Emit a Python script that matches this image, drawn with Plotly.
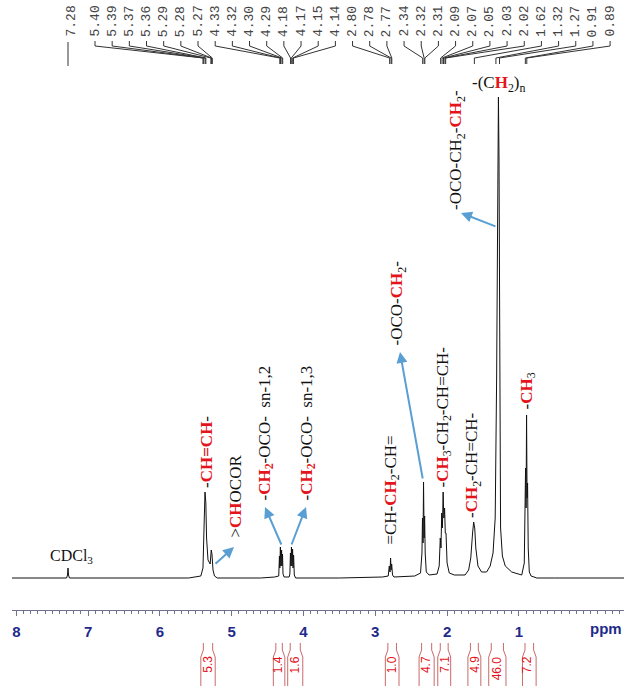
import plotly.graph_objects as go

# ---------------- data ----------------
# 1H NMR spectrum trace: chemical shift (ppm) and intensity (arbitrary units)
spectrum_ppm = [8.06, 7.40, 7.30, 7.287, 7.28, 7.273, 7.26, 5.60, 5.50,
                5.43, 5.40, 5.385, 5.372, 5.36, 5.35, 5.33, 5.30, 5.285, 5.275, 5.26, 5.24, 5.20,
                4.60, 4.40, 4.345, 4.335, 4.33, 4.322, 4.315, 4.305, 4.30, 4.292, 4.285, 4.27,
                4.20, 4.19, 4.182, 4.175, 4.168, 4.16, 4.152, 4.145, 4.138, 4.128, 4.11,
                3.50, 2.90, 2.82, 2.805, 2.795, 2.787, 2.78, 2.772, 2.76, 2.74,
                2.45, 2.37, 2.35, 2.343, 2.335, 2.328, 2.32, 2.313, 2.305, 2.29, 2.25,
                2.14, 2.11, 2.095, 2.085, 2.075, 2.065, 2.055, 2.045, 2.035, 2.025, 2.015, 2.00, 1.97, 1.90,
                1.75, 1.70, 1.67, 1.645, 1.63, 1.615, 1.60, 1.57, 1.52,
                1.45, 1.40, 1.36, 1.33, 1.31, 1.30, 1.293, 1.285, 1.277, 1.268, 1.255, 1.23, 1.19, 1.10, 1.00,
                0.96, 0.925, 0.915, 0.907, 0.90, 0.893, 0.886, 0.879, 0.87, 0.855, 0.83, 0.75, 0.50, -0.464]
spectrum_int = [0, 0, 0, 3, 10, 3, 0, 0, 1,
                2, 10, 40, 86, 75, 40, 18, 14, 28, 24, 8, 2, 0,
                0, 1, 2, 22, 10, 31, 12, 28, 12, 24, 4, 1,
                1, 4, 25, 12, 31, 12, 29, 10, 23, 3, 0,
                0, 1, 2, 12, 6, 20, 8, 14, 3, 1,
                2, 5, 25, 60, 35, 96, 40, 62, 25, 6, 3,
                4, 12, 40, 30, 65, 50, 86, 60, 70, 45, 45, 15, 5, 3,
                3, 8, 20, 45, 56, 50, 30, 12, 6,
                6, 12, 25, 60, 200, 351, 330, 481, 420, 150, 50, 22, 12, 6, 4,
                3, 15, 60, 110, 70, 163, 80, 95, 30, 6, 2, 0, 0, 0]

# peak-picking labels
peak_labels = ["5.40", "5.39", "5.37", "5.36", "5.29", "5.28", "5.27",
               "4.33", "4.32", "4.30", "4.29", "4.18", "4.17", "4.15", "4.14",
               "2.80", "2.78", "2.77", "2.34", "2.32", "2.31",
               "2.09", "2.07", "2.05", "2.03", "2.02", "1.62", "1.32", "1.27", "0.91", "0.89"]
solvent_label = "7.28"

# integrals
integral_values = ["5.3", "1.4", "1.6", "1.0", "4.7", "7.1", "4.9", "46.0", "7.2"]
integral_centers = [5.34, 4.36, 4.12, 2.77, 2.30, 2.04, 1.62, 1.30, 0.89]
integral_left = [5.43, 4.42, 4.22, 2.86, 2.39, 2.13, 1.71, 1.42, 0.95]
integral_right = [5.23, 4.26, 4.01, 2.67, 2.18, 1.95, 1.53, 1.18, 0.76]

tick_values = [8, 7, 6, 5, 4, 3, 2, 1]

# ---------------- figure ----------------
W, H = 624, 686
PLOT_TOP, PLOT_BOTTOM = 0, 610          # pixel rows of the plotting area
X_RANGE = [8.06, -0.464]
LEFT = 12
PPM_PER_PX = (X_RANGE[0] - X_RANGE[1]) / (W - LEFT)


def py(ypix):
    """pixel row -> paper y"""
    return (PLOT_BOTTOM - ypix) / (PLOT_BOTTOM - PLOT_TOP)


def px_ppm(xpix):
    """pixel column -> ppm (for evenly spaced label positions)"""
    return X_RANGE[0] - (xpix - LEFT) * PPM_PER_PX


RED = "#e3141c"
BLUE = "#5a9fd4"
AXIS_BLUE = "#1f2a8a"
SERIF = "Liberation Serif, Times New Roman, serif"


def red(s):
    return f"<span style='color:{RED}'><b>{s}</b></span>"


fig = go.Figure()
fig.add_trace(go.Scatter(x=spectrum_ppm, y=spectrum_int, mode="lines",
                         line=dict(color="#111111", width=1), hoverinfo="skip",
                         showlegend=False))

annotations = []
shapes = []

# peak pick labels at top
annotations.append(dict(x=px_ppm(71), y=py(4), xref="x", yref="paper", text=solvent_label,
                        textangle=-90, showarrow=False, xanchor="center", yanchor="top",
                        font=dict(family="Liberation Mono, monospace", size=13, color="#444")))
shapes.append(dict(type="line", xref="x", yref="paper", x0=7.28, x1=7.28, y0=py(42), y1=py(66),
                   line=dict(color="#333", width=1)))
for i, lab in enumerate(peak_labels):
    xl = px_ppm(95 + i * 17.17)
    annotations.append(dict(x=xl, y=py(4), xref="x", yref="paper", text=lab,
                            textangle=-90, showarrow=False, xanchor="center", yanchor="top",
                            font=dict(family="Liberation Mono, monospace", size=13, color="#444")))
    xp = float(lab)
    shapes.append(dict(type="path", xref="x", yref="paper",
                       path=f"M {xl},{py(41)} L {xl},{py(46)} L {xp},{py(58)} L {xp},{py(64)}",
                       line=dict(color="#333", width=1)))

# integrals
for v, c, l, r in zip(integral_values, integral_centers, integral_left, integral_right):
    annotations.append(dict(x=c, y=py(654), xref="x", yref="paper", text=v, textangle=-90,
                            showarrow=False, xanchor="center", yanchor="top",
                            font=dict(family="Arial, Liberation Sans", size=12, color=RED)))
    for edge, inset in ((l, -0.035), (r, 0.035)):
        shapes.append(dict(type="path", xref="x", yref="paper",
                           path=(f"M {edge + inset},{py(643)} L {edge + inset},{py(650)} "
                                 f"L {edge},{py(657)} L {edge},{py(690)}"),
                           line=dict(color="#c96a6a", width=1)))

# assignment labels (rotated), anchored at their lower end
labels = [
    ("-" + red("CH=CH") + "-", 5.358, 88),
    (">" + red("CH") + "OCOR", 4.954, 38),
    ("-" + red("CH<sub>2</sub>") + "-OCO-  sn-1,2", 4.536, 75),
    ("-" + red("CH<sub>2</sub>") + "-OCO-  sn-1,3", 3.951, 75),
    ("=CH-" + red("CH") + "<sub>2</sub>-CH=", 2.78, 31),
    ("-OCO-" + red("CH") + "<sub>2</sub>-", 2.684, 231),
    ("-" + red("CH") + "<sub>3</sub>-CH<sub>2</sub>-CH=CH-", 2.057, 88),
    ("-" + red("CH") + "<sub>2</sub>-CH=CH-", 1.639, 58),
    ("-" + red("CH") + "<sub>3</sub>", 0.887, 166),
    ("-OCO-CH<sub>2</sub>-" + red("CH") + "<sub>2</sub>-", 1.862, 366),
]
for text, x, y in labels:
    annotations.append(dict(x=x, y=y, xref="x", yref="y", text=text, textangle=-90,
                            showarrow=False, xanchor="center", yanchor="bottom",
                            font=dict(family=SERIF, size=17, color="#111")))

annotations.append(dict(x=1.277, y=494, xref="x", yref="y",
                        text="-(C" + red("H") + "<sub>2</sub>)<sub>n</sub>",
                        showarrow=False, xanchor="center", yanchor="middle",
                        font=dict(family=SERIF, size=17, color="#111")))
annotations.append(dict(x=7.238, y=22, xref="x", yref="y", text="CDCl<sub>3</sub>",
                        showarrow=False, xanchor="center", yanchor="middle",
                        font=dict(family=SERIF, size=16, color="#111")))

# arrows (tail -> head)
arrows = [
    ((5.247, 13), (4.968, 31)),
    ((4.30, 32), (4.536, 71)),
    ((4.174, 32), (3.965, 71)),
    ((2.336, 98), (2.656, 226)),
    ((1.305, 351), (1.806, 365)),
]
for (tx, ty), (hx, hy) in arrows:
    annotations.append(dict(x=hx, y=hy, ax=tx, ay=ty, xref="x", yref="y", axref="x", ayref="y",
                            text="", showarrow=True, arrowhead=2, arrowsize=1.1,
                            arrowwidth=2, arrowcolor=BLUE, standoff=0, startstandoff=0))

# axis label
annotations.append(dict(x=1, y=py(628), xref="paper", yref="paper", text="<b>ppm</b>",
                        showarrow=False, xanchor="right", yanchor="middle",
                        font=dict(family="Arial, Liberation Sans", size=15, color=AXIS_BLUE)))

fig.update_layout(
    width=W, height=H,
    margin=dict(l=LEFT, r=0, t=PLOT_TOP, b=H - PLOT_BOTTOM),
    paper_bgcolor="white", plot_bgcolor="white",
    showlegend=False,
    annotations=annotations,
    shapes=shapes,
    xaxis=dict(range=X_RANGE, showgrid=False, zeroline=False,
               showline=True, linecolor="#6f7390", linewidth=1,
               ticks="outside", ticklen=5, tickcolor="#6f7390", tickwidth=1,
               tickvals=tick_values, ticktext=[str(t) for t in tick_values],
               tickfont=dict(family="Arial, Liberation Sans", size=15, color=AXIS_BLUE),
               ticklabelstandoff=3,
               minor=dict(dtick=0.1, ticks="outside", ticklen=3, tickcolor="#6f7390", showgrid=False)),
    yaxis=dict(range=[-32, 578], visible=False, showgrid=False, zeroline=False),
)
# bold tick labels
fig.update_xaxes(ticktext=[f"<b>{t}</b>" for t in tick_values])

fig.write_html("out.html")
